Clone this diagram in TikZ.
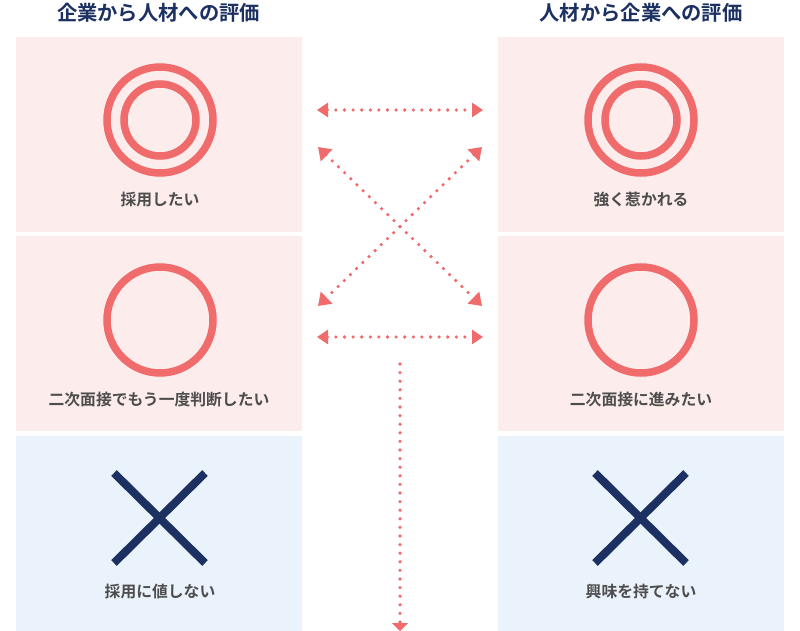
\documentclass[tikz,border=0pt]{standalone}
\usepackage{fontspec}
\newfontfamily\jpb{Noto Sans CJK JP Bold}
\usetikzlibrary{arrows.meta}
\definecolor{pinkbg}{HTML}{FDECEC}
\definecolor{bluebg}{HTML}{EAF2FB}
\definecolor{redc}{HTML}{F06B6B}
\definecolor{navy}{HTML}{1C3162}
\definecolor{labc}{HTML}{4D4D4D}
\tikzset{
  panel/.style={inner sep=0pt, minimum width=286pt, minimum height=195pt, draw=none},
  pinkpanel/.style={panel, fill=pinkbg},
  bluepanel/.style={panel, fill=bluebg},
  ring/.style={draw=redc, line width=7.5pt},
  cross/.style={draw=navy, line width=8pt},
  lab/.style={font=\jpb\fontsize{15.8}{17}\selectfont, text=labc, inner sep=0pt},
  head/.style={font=\jpb\fontsize{20.3}{22}\selectfont, text=navy, inner sep=0pt},
  dotarrow/.style={draw=redc, line width=3.6pt, line cap=round, dash pattern=on 0pt off 8.6pt,
     {Triangle[length=11pt,width=14pt,fill=redc]}-{Triangle[length=11pt,width=14pt,fill=redc]}},
  diagarrow/.style={dotarrow,
     {Triangle[length=12pt,width=16pt,fill=redc]}-{Triangle[length=12pt,width=16pt,fill=redc]}},
  downarrow/.style={draw=redc, line width=3.6pt, line cap=round, dash pattern=on 0pt off 8.6pt,
     -{Triangle[length=8pt,width=16pt,fill=redc]}}
}
\begin{document}
\begin{tikzpicture}[x=1pt,y=-1pt]
\useasboundingbox (0,0) rectangle (800,631);
\fill[white] (0,0) rectangle (800,631);
% headings
\node[head] (hL) at (158.5,13) {企業から人材への評価};
\node[head] (hR) at (641,13) {人材から企業への評価};
% panels
\node[pinkpanel, anchor=north west] (pL1) at (16,37) {};
\node[pinkpanel, anchor=north west] (pL2) at (16,236) {};
\node[bluepanel, anchor=north west] (pL3) at (16,436) {};
\node[pinkpanel, anchor=north west] (pR1) at (498,37) {};
\node[pinkpanel, anchor=north west] (pR2) at (498,236) {};
\node[bluepanel, anchor=north west] (pR3) at (498,436) {};
% symbols left
\draw[ring] (160,120) circle[radius=53];
\draw[ring] (160,120) circle[radius=36];
\draw[ring] (160,320) circle[radius=53];
\draw[cross] (114,473) -- (205,563);
\draw[cross] (205,473) -- (114,563);
% symbols right
\draw[ring] (641,120) circle[radius=53];
\draw[ring] (641,120) circle[radius=36];
\draw[ring] (641,320) circle[radius=53];
\draw[cross] (595,473) -- (686,563);
\draw[cross] (686,473) -- (595,563);
% labels
\node[lab] (tL1) at (160,199.5) {採用したい};
\node[lab] (tL2) at (159,400) {二次面接でもう一度判断したい};
\node[lab] (tL3) at (160,591.5) {採用に値しない};
\node[lab] (tR1) at (641,199.5) {強く惹かれる};
\node[lab] (tR2) at (641,400) {二次面接に進みたい};
\node[lab] (tR3) at (641,591.5) {興味を持てない};
% arrow endpoints
\coordinate (a1) at (317,110);
\coordinate (b1) at (483,110);
\coordinate (a2) at (318,147);
\coordinate (b2) at (482,306);
\coordinate (a3) at (482,147);
\coordinate (b3) at (318,306);
\coordinate (a4) at (317,337);
\coordinate (b4) at (483,337);
\coordinate (v1) at (400,364);
\coordinate (v2) at (400,631);
\draw[dotarrow] (a1) -- (b1);
\draw[diagarrow] (a2) -- (b2);
\draw[diagarrow] (a3) -- (b3);
\draw[dotarrow] (a4) -- (b4);
\draw[downarrow] (v1) -- (v2);
\end{tikzpicture}
\end{document}
